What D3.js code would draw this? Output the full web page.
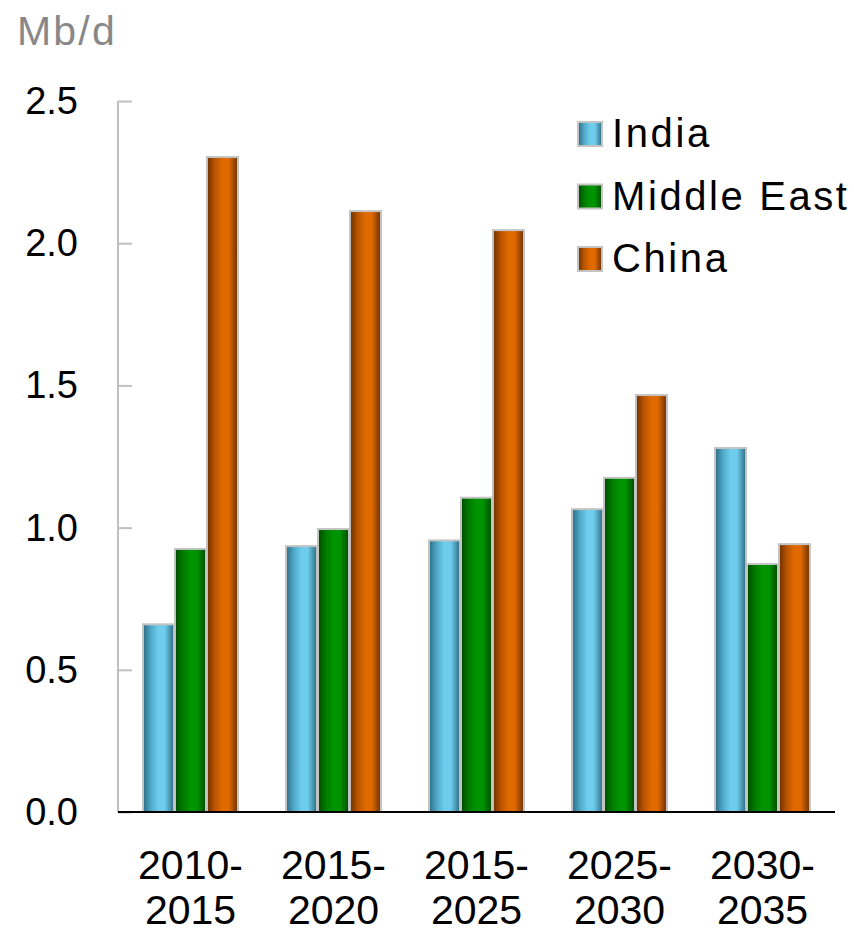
<!DOCTYPE html>
<html><head><meta charset="utf-8">
<script src="https://cdn.jsdelivr.net/npm/d3@7"></script>
<style>body{margin:0;background:#fff;} svg{display:block;}</style>
</head><body>
<svg id="c" width="854" height="934"></svg>
<script>
const categories = [["2010-","2015"],["2015-","2020"],["2015-","2025"],["2025-","2030"],["2030-","2035"]];
const seriesNames = ["India","Middle East","China"];
const india = [0.66, 0.935, 0.955, 1.065, 1.28];
const middleEast = [0.925, 0.995, 1.105, 1.175, 0.872];
const china = [2.303, 2.113, 2.046, 1.466, 0.942];
const yTicks = [0, 0.5, 1.0, 1.5, 2.0, 2.5];
const seriesValues = [india, middleEast, china];
const colors = [
  {dark:"#2c6a80", mid:"#4fa8c8", light:"#6ecdec"},
  {dark:"#004a00", mid:"#007a00", light:"#009400"},
  {dark:"#6a3000", mid:"#b85400", light:"#e06a00"}
];

const svg = d3.select("#c");
const font = "'Liberation Sans', Arial, sans-serif";
const catKeys = categories.map(d=>d.join(""));
const x0 = d3.scaleBand().domain(catKeys).range([118, 835]).paddingInner(0.336).paddingOuter(0.175);
const x1 = d3.scaleBand().domain(seriesNames).range([0, x0.bandwidth()]).paddingInner(0.03);
const y = d3.scaleLinear().domain([0, 2.5]).range([812, 101]);

const defs = svg.append("defs");
colors.forEach((c,i)=>{
  const g = defs.append("linearGradient").attr("id","g"+i).attr("x1","0").attr("x2","1").attr("y1","0").attr("y2","0");
  g.append("stop").attr("offset","0").attr("stop-color",c.dark);
  g.append("stop").attr("offset","0.25").attr("stop-color",c.mid);
  g.append("stop").attr("offset","0.5").attr("stop-color",c.light);
  g.append("stop").attr("offset","0.7").attr("stop-color",c.light);
  g.append("stop").attr("offset","1").attr("stop-color",c.dark);
});

// y axis
const yAxis = d3.axisRight(y).tickValues(yTicks).tickSize(14).tickFormat("");
const ya = svg.append("g").attr("transform","translate(118,0)").call(yAxis);
ya.select(".domain").attr("stroke","#c0c0c0").attr("stroke-width",2).attr("d","M0,101V812");
ya.selectAll(".tick line").attr("stroke","#c0c0c0").attr("stroke-width",2);

svg.append("g").selectAll("text").data(yTicks).join("text")
  .attr("x",78).attr("y",d=>y(d)+13)
  .attr("text-anchor","end").attr("font-family",font).attr("font-size",38).attr("fill","#000")
  .text(d=>d.toFixed(1));

svg.append("text").attr("x",17).attr("y",45).attr("font-family",font).attr("font-size",41)
  .attr("letter-spacing",2.2).attr("fill","#888").text("Mb/d");

// bars
const groups = svg.append("g").selectAll("g").data(catKeys).join("g")
  .attr("transform",d=>`translate(${x0(d)},0)`);
groups.selectAll("rect").data((d,ci)=>seriesNames.map((s,si)=>({s,si,v:seriesValues[si][ci]}))).join("rect")
  .attr("x",d=>x1(d.s)).attr("width",x1.bandwidth())
  .attr("y",d=>y(d.v)).attr("height",d=>y(0)-y(d.v))
  .attr("fill",d=>`url(#g${d.si})`).attr("stroke","#c4c4c4").attr("stroke-width",2);

// baseline
svg.append("line").attr("x1",118).attr("x2",835).attr("y1",y(0)).attr("y2",y(0)).attr("stroke","#000").attr("stroke-width",2);

// x labels
const xl = svg.append("g").selectAll("text").data(categories).join("text")
  .attr("text-anchor","middle").attr("font-family",font).attr("font-size",41).attr("fill","#000");
xl.append("tspan").attr("x",(d,i)=>x0(catKeys[i])+x0.bandwidth()/2).attr("y",879).text(d=>d[0]);
xl.append("tspan").attr("x",(d,i)=>x0(catKeys[i])+x0.bandwidth()/2).attr("y",924).text(d=>d[1]);

// legend
const lg = svg.append("g").selectAll("g").data(seriesNames).join("g")
  .attr("transform",(d,i)=>`translate(578,${122+i*62.5})`);
lg.append("rect").attr("width",24).attr("height",24).attr("fill",(d,i)=>`url(#g${i})`).attr("stroke","#c4c4c4").attr("stroke-width",2);
lg.append("text").attr("x",34).attr("y",25).attr("font-family",font).attr("font-size",40)
  .attr("letter-spacing",2.6).attr("fill","#000").text(d=>d);
</script>
</body></html>
